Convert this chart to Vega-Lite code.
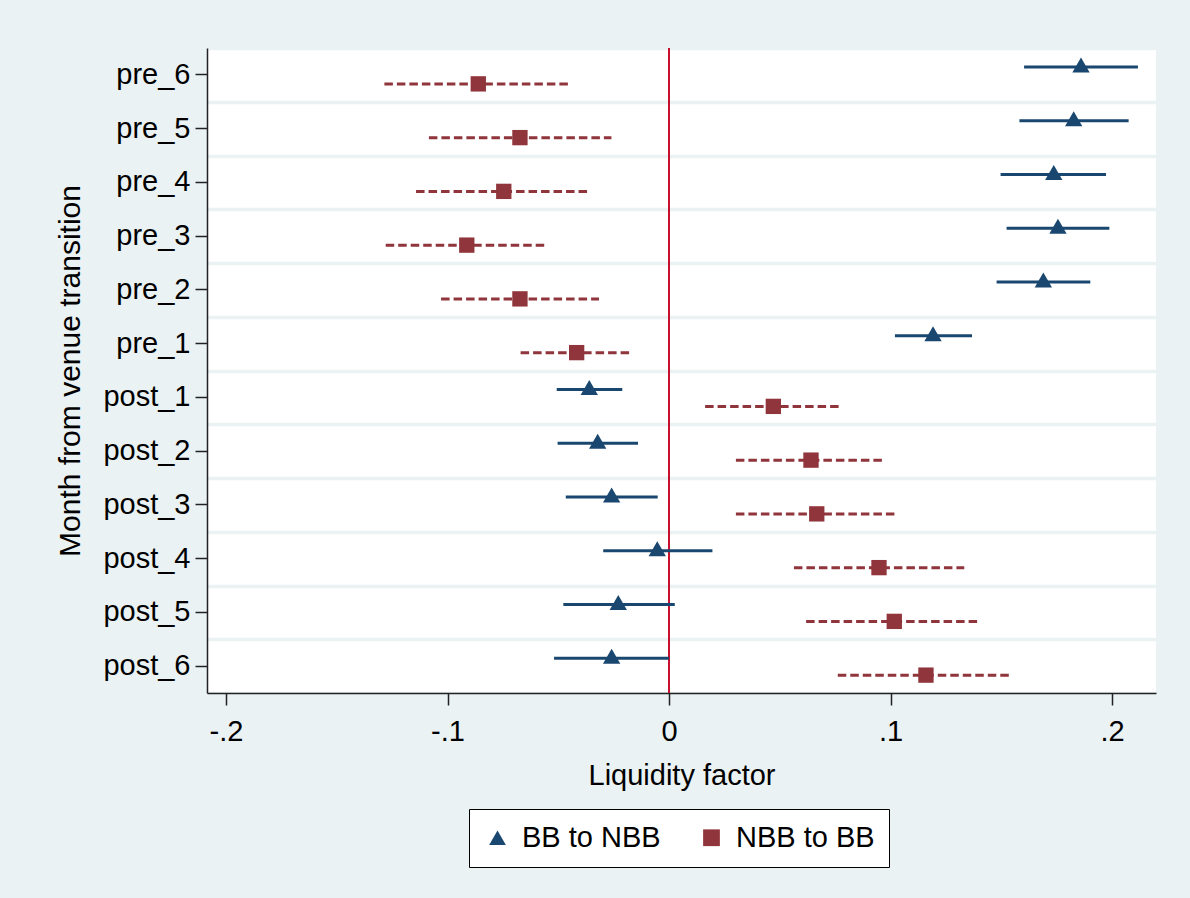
{
  "$schema": "https://vega.github.io/schema/vega-lite/v6.json",
  "width": 949,
  "height": 645,
  "autosize": {"type": "none"},
  "padding": {"left": 207, "top": 48, "right": 34, "bottom": 205},
  "background": "#EAF2F3",
  "config": {
    "font": "Liberation Sans",
    "view": {"fill": "white", "stroke": null},
    "axis": {
      "labelFont": "Liberation Sans",
      "titleFont": "Liberation Sans",
      "labelColor": "black",
      "titleColor": "black",
      "labelFontSize": 29,
      "titleFontSize": 29,
      "titleFontWeight": "normal",
      "domainColor": "#222222",
      "tickColor": "#222222",
      "domainWidth": 1.5,
      "tickWidth": 1.5,
      "tickSize": 12
    }
  },
  "data": {
    "values": [
      {"month": "pre_6", "series": "BB to NBB", "est": 0.186, "lo": 0.1603, "hi": 0.2117},
      {"month": "pre_5", "series": "BB to NBB", "est": 0.1827, "lo": 0.1582, "hi": 0.2075},
      {"month": "pre_4", "series": "BB to NBB", "est": 0.1737, "lo": 0.1497, "hi": 0.1973},
      {"month": "pre_3", "series": "BB to NBB", "est": 0.1756, "lo": 0.1524, "hi": 0.1988},
      {"month": "pre_2", "series": "BB to NBB", "est": 0.169, "lo": 0.1479, "hi": 0.1902},
      {"month": "pre_1", "series": "BB to NBB", "est": 0.1192, "lo": 0.102, "hi": 0.1368},
      {"month": "post_1", "series": "BB to NBB", "est": -0.036, "lo": -0.0507, "hi": -0.0211},
      {"month": "post_2", "series": "BB to NBB", "est": -0.0322, "lo": -0.0503, "hi": -0.014},
      {"month": "post_3", "series": "BB to NBB", "est": -0.0259, "lo": -0.0466, "hi": -0.0051},
      {"month": "post_4", "series": "BB to NBB", "est": -0.0053, "lo": -0.0297, "hi": 0.0196},
      {"month": "post_5", "series": "BB to NBB", "est": -0.0229, "lo": -0.0477, "hi": 0.0026},
      {"month": "post_6", "series": "BB to NBB", "est": -0.0259, "lo": -0.0519, "hi": 0.0},
      {"month": "pre_6", "series": "NBB to BB", "est": -0.0861, "lo": -0.1285, "hi": -0.0447},
      {"month": "pre_5", "series": "NBB to BB", "est": -0.0673, "lo": -0.1084, "hi": -0.026},
      {"month": "pre_4", "series": "NBB to BB", "est": -0.0746, "lo": -0.1142, "hi": -0.036},
      {"month": "pre_3", "series": "NBB to BB", "est": -0.0913, "lo": -0.1279, "hi": -0.0552},
      {"month": "pre_2", "series": "NBB to BB", "est": -0.0673, "lo": -0.1029, "hi": -0.0316},
      {"month": "pre_1", "series": "NBB to BB", "est": -0.0417, "lo": -0.067, "hi": -0.0173},
      {"month": "post_1", "series": "NBB to BB", "est": 0.0471, "lo": 0.0163, "hi": 0.0777},
      {"month": "post_2", "series": "NBB to BB", "est": 0.0641, "lo": 0.0302, "hi": 0.0972},
      {"month": "post_3", "series": "NBB to BB", "est": 0.0667, "lo": 0.0302, "hi": 0.1031},
      {"month": "post_4", "series": "NBB to BB", "est": 0.0948, "lo": 0.0564, "hi": 0.1333},
      {"month": "post_5", "series": "NBB to BB", "est": 0.1017, "lo": 0.0619, "hi": 0.1404},
      {"month": "post_6", "series": "NBB to BB", "est": 0.116, "lo": 0.0762, "hi": 0.1549}
    ]
  },
  "resolve": {"axis": {"y": "independent"}},
  "layer": [
    {
      "transform": [{"filter": "datum.series === 'NBB to BB'"}],
      "mark": {"type": "rule", "color": "#90353B", "strokeWidth": 3, "strokeDash": [8.5, 4], "yOffset": 9},
      "encoding": {
        "x": {"field": "lo", "type": "quantitative", "title": "Liquidity factor",
              "scale": {"domain": [-0.20858, 0.21986], "nice": false, "zero": false},
              "axis": {"values": [-0.2, -0.1, 0, 0.1, 0.2], "grid": false, "labelPadding": 12, "titlePadding": 15,
                       "labelFlush": false, "labelOverlap": false,
                       "labelExpr": "datum.value == 0 ? '0' : (datum.value < 0 ? '-' : '') + replace(format(abs(datum.value), '.1f'), '0.', '.')"}},
        "x2": {"field": "hi"},
        "y": {"field": "month", "type": "nominal",
              "scale": {"domain": ["pre_6", "pre_5", "pre_4", "pre_3", "pre_2", "pre_1", "post_1", "post_2", "post_3", "post_4", "post_5", "post_6"], "paddingInner": 0, "paddingOuter": 0},
              "axis": {"orient": "right", "tickBand": "extent", "grid": true, "gridColor": "#EAF2F3", "gridWidth": 3.5,
                       "labels": false, "ticks": false, "domain": false, "title": null}}
      }
    },
    {
      "data": {"values": [{"ref": 0}]},
      "mark": {"type": "rule", "color": "#C8102E", "strokeWidth": 2},
      "encoding": {
        "x": {"field": "ref", "type": "quantitative", "title": "Liquidity factor"}
      }
    },
    {
      "transform": [{"filter": "datum.series === 'BB to NBB'"}],
      "mark": {"type": "rule", "color": "#1A476F", "strokeWidth": 3, "yOffset": -8},
      "encoding": {
        "x": {"field": "lo", "type": "quantitative", "title": "Liquidity factor"},
        "x2": {"field": "hi"},
        "y": {"field": "month", "type": "nominal",
              "axis": {"orient": "left", "grid": false, "labelPadding": 5, "titlePadding": 17,
                       "titleFontSize": 30, "title": "Month from venue transition"}}
      }
    },
    {
      "transform": [{"filter": "datum.series === 'NBB to BB'"}],
      "mark": {"type": "point", "filled": true, "opacity": 1, "strokeWidth": 0, "size": 235, "yOffset": 9},
      "encoding": {
        "x": {"field": "est", "type": "quantitative", "title": "Liquidity factor"},
        "y": {"field": "month", "type": "nominal", "axis": null},
        "color": {"field": "series", "type": "nominal",
                  "scale": {"domain": ["BB to NBB", "NBB to BB"], "range": ["#1A476F", "#90353B"]},
                  "legend": {"orient": "none", "legendX": 262, "legendY": 761, "direction": "horizontal",
                             "title": null, "fillColor": "white", "strokeColor": "black", "padding": 14,
                             "labelFontSize": 29, "labelFont": "Liberation Sans", "labelColor": "black",
                             "symbolSize": 280, "symbolStrokeWidth": 0, "labelOffset": 10, "columnPadding": 36}},
        "shape": {"field": "series", "type": "nominal",
                  "scale": {"domain": ["BB to NBB", "NBB to BB"], "range": ["triangle-up", "square"]},
                  "legend": {"orient": "none", "legendX": 262, "legendY": 761, "direction": "horizontal",
                             "title": null, "fillColor": "white", "strokeColor": "black", "padding": 14,
                             "labelFontSize": 29, "labelFont": "Liberation Sans", "labelColor": "black",
                             "symbolSize": 280, "symbolStrokeWidth": 0, "labelOffset": 10, "columnPadding": 36}}
      }
    },
    {
      "transform": [{"filter": "datum.series === 'BB to NBB'"}],
      "mark": {"type": "point", "filled": true, "opacity": 1, "strokeWidth": 0, "size": 300, "yOffset": -10},
      "encoding": {
        "x": {"field": "est", "type": "quantitative", "title": "Liquidity factor"},
        "y": {"field": "month", "type": "nominal", "axis": null},
        "color": {"field": "series", "type": "nominal"},
        "shape": {"field": "series", "type": "nominal"}
      }
    }
  ]
}
